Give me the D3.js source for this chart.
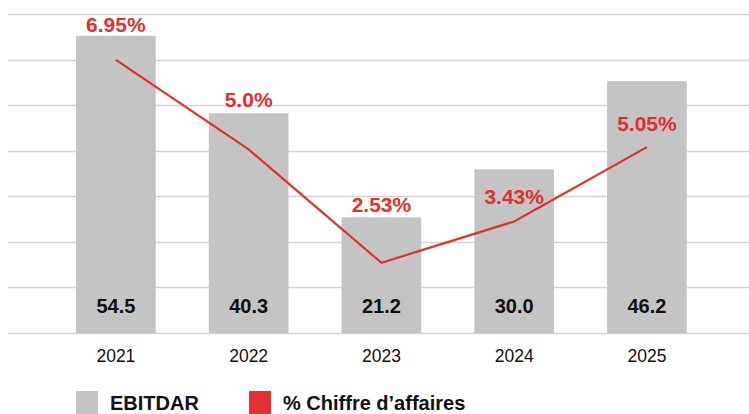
<!DOCTYPE html>
<html>
<head>
<meta charset="utf-8">
<script src="https://cdn.jsdelivr.net/npm/d3@7"></script>
<style>
  body { margin: 0; background: #fff; }
  svg { display: block; font-family: "Liberation Sans", Arial, Helvetica, sans-serif; }
</style>
</head>
<body>
<div id="chart"></div>
<script>
// data
var years = ['2021', '2022', '2023', '2024', '2025'];
var ebitdar = [54.5, 40.3, 21.2, 30.0, 46.2];
var ebitdarLabels = ['54.5', '40.3', '21.2', '30.0', '46.2'];
var pctCA = [6.95, 5.0, 2.53, 3.43, 5.05];
var pctLabels = ['6.95%', '5.0%', '2.53%', '3.43%', '5.05%'];
var legendNames = ['EBITDAR', '% Chiffre d\u2019affaires'];

// layout
var width = 749, height = 414;
var baseY = 333, topY = 14;
var gridCount = 7;
var pctLabelDy = [-28, -42, -51, -17, -16];
var barColor = '#c4c4c4';
var red = '#e0302f';
var gridColor = '#d3d3d3';

var svg = d3.select('#chart').append('svg')
  .attr('width', width)
  .attr('height', height);

var x = d3.scaleBand()
  .domain(years)
  .range([49.5, 713.3])
  .paddingInner(0.4)
  .paddingOuter(0.2);

var yBar = d3.scaleLinear().domain([0, 58.5]).range([baseY, topY]);
var yPct = d3.scaleLinear().domain([1, 7.95]).range([baseY, topY]);

// gridlines
var gridVals = d3.range(gridCount + 1).map(function(i){ return 58.5 / gridCount * i; });
svg.append('g')
  .selectAll('line')
  .data(gridVals)
  .enter()
  .append('line')
  .attr('x1', 8)
  .attr('x2', width)
  .attr('y1', function(d){ return Math.round(yBar(d)) + 0.5; })
  .attr('y2', function(d){ return Math.round(yBar(d)) + 0.5; })
  .attr('stroke', gridColor)
  .attr('stroke-width', 1.5);

// bars
svg.append('g')
  .selectAll('rect')
  .data(ebitdar)
  .enter()
  .append('rect')
  .attr('x', function(d, i){ return x(years[i]); })
  .attr('y', function(d){ return yBar(d); })
  .attr('width', x.bandwidth())
  .attr('height', function(d){ return baseY - yBar(d); })
  .attr('fill', barColor);

// bar value labels
svg.append('g')
  .selectAll('text')
  .data(ebitdarLabels)
  .enter()
  .append('text')
  .attr('x', function(d, i){ return x(years[i]) + x.bandwidth() / 2; })
  .attr('y', 313)
  .attr('text-anchor', 'middle')
  .attr('font-size', '20px')
  .attr('font-weight', 'bold')
  .attr('fill', '#111')
  .text(function(d){ return d; });

// year axis
var xAxis = svg.append('g')
  .attr('transform', 'translate(0,' + baseY + ')')
  .call(d3.axisBottom(x).tickSize(0).tickPadding(16.5));
xAxis.select('.domain').remove();
xAxis.selectAll('text')
  .attr('font-size', '17.5px')
  .attr('font-family', '"Liberation Sans", Arial, sans-serif')
  .attr('fill', '#111');

// line
var line = d3.line()
  .x(function(d, i){ return x(years[i]) + x.bandwidth() / 2; })
  .y(function(d){ return yPct(d); });

svg.append('path')
  .datum(pctCA)
  .attr('d', line)
  .attr('fill', 'none')
  .attr('stroke', red)
  .attr('stroke-width', 2.2);

// percent labels
svg.append('g')
  .selectAll('text')
  .data(pctLabels)
  .enter()
  .append('text')
  .attr('x', function(d, i){ return x(years[i]) + x.bandwidth() / 2; })
  .attr('y', function(d, i){ return yPct(pctCA[i]) + pctLabelDy[i]; })
  .attr('text-anchor', 'middle')
  .attr('font-size', '21px')
  .attr('font-weight', 'bold')
  .attr('fill', red)
  .text(function(d){ return d; });

// legend
var legendX = [76, 249];
var legendColors = [barColor, red];
var legend = svg.append('g')
  .selectAll('g')
  .data(legendNames)
  .enter()
  .append('g')
  .attr('transform', function(d, i){ return 'translate(' + legendX[i] + ',391)'; });
legend.append('rect')
  .attr('width', 22)
  .attr('height', 23)
  .attr('fill', function(d, i){ return legendColors[i]; });
legend.append('text')
  .attr('x', 34)
  .attr('y', 18.5)
  .attr('font-size', '20px')
  .attr('font-weight', 'bold')
  .attr('fill', '#111')
  .text(function(d){ return d; });
</script>
</body>
</html>
